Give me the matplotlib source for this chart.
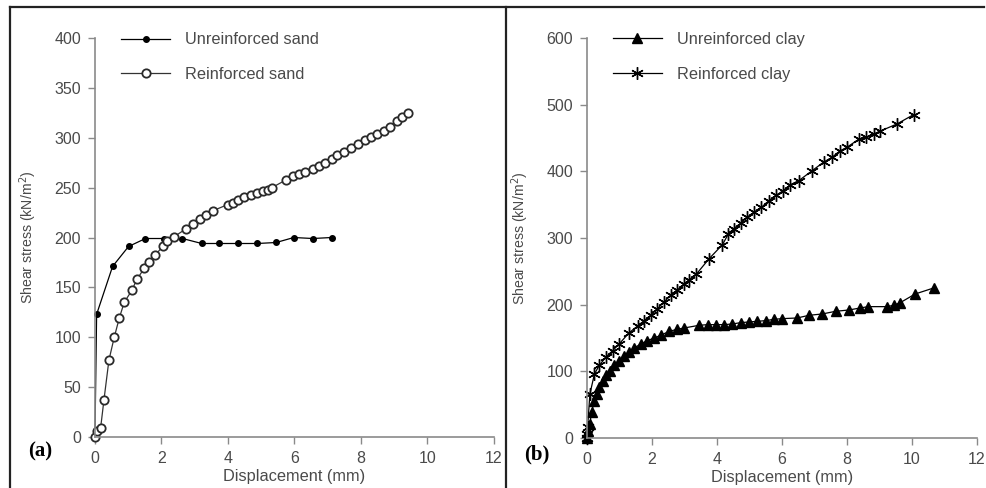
import matplotlib
matplotlib.use("Agg")
import matplotlib.pyplot as plt
from matplotlib.lines import Line2D

plt.rcParams['font.family'] = ['Liberation Sans', 'DejaVu Sans']

# (a) sand: displacement (mm) vs shear stress (kN/m2)
sand_unr_x = [0.0, 0.05, 0.53, 1.01, 1.52, 2.09, 2.63, 3.21, 3.74, 4.30, 4.88, 5.45, 5.98, 6.55, 7.12]
sand_unr_y = [0, 123, 171, 191, 199, 199, 199, 194, 194, 194, 194, 195, 200, 199, 200]

sand_rein_x = [0.0, 0.07, 0.17, 0.27, 0.42, 0.58, 0.73, 0.88, 1.11, 1.26, 1.48, 1.62, 1.80,
               2.04, 2.17, 2.39, 2.75, 2.96, 3.16, 3.35, 3.56, 3.99, 4.16, 4.31, 4.49, 4.68,
               4.86, 5.04, 5.20, 5.32, 5.76, 5.96, 6.14, 6.32, 6.55, 6.75, 6.92, 7.12, 7.29,
               7.49, 7.71, 7.91, 8.11, 8.31, 8.48, 8.69, 8.87, 9.07, 9.24, 9.42]
sand_rein_y = [0, 6, 9, 37, 77, 100, 119, 135, 147, 158, 169, 175, 182,
               191, 196, 201, 209, 214, 219, 223, 227, 233, 235, 238, 241, 243,
               245, 247, 248, 250, 258, 262, 264, 266, 269, 272, 275, 279, 283,
               286, 290, 294, 298, 301, 304, 307, 311, 317, 321, 325]

# (b) clay
clay_unr_x = [0.0, 0.04, 0.09, 0.14, 0.23, 0.30, 0.38, 0.48, 0.58, 0.71, 0.84, 0.99, 1.15,
              1.30, 1.45, 1.66, 1.86, 2.07, 2.27, 2.53, 2.78, 2.99, 3.45, 3.71, 3.96, 4.22,
              4.47, 4.73, 4.98, 5.24, 5.50, 5.75, 6.01, 6.47, 6.83, 7.24, 7.65, 8.06, 8.41,
              8.65, 9.23, 9.44, 9.64, 10.10, 10.67]
clay_unr_y = [0, 11, 21, 39, 56, 66, 76, 86, 94, 101, 109, 116, 123,
              129, 135, 141, 146, 150, 154, 160, 163, 165, 169, 170, 170, 170,
              171, 173, 174, 175, 176, 178, 179, 180, 184, 186, 190, 192, 195,
              197, 197, 199, 203, 216, 225]

clay_rein_x = [0.0, 0.0, 0.02, 0.09, 0.23, 0.38, 0.58, 0.79, 0.99, 1.30, 1.56, 1.76, 1.97,
               2.17, 2.37, 2.58, 2.78, 2.99, 3.14, 3.37, 3.76, 4.17, 4.35, 4.52, 4.73, 4.93,
               5.15, 5.37, 5.60, 5.82, 6.04, 6.26, 6.52, 6.93, 7.29, 7.54, 7.80, 8.00, 8.36,
               8.59, 8.82, 9.01, 9.54, 10.05]
clay_rein_y = [0, 6, 16, 66, 96, 109, 121, 131, 141, 158, 168, 176, 184,
               194, 204, 214, 222, 231, 237, 246, 269, 290, 306, 314, 322, 331,
               339, 346, 356, 364, 371, 380, 386, 401, 414, 421, 431, 436, 448,
               451, 456, 460, 471, 485]

spine_col = '#8a8a8a'
text_col = '#4a4a4a'

fig = plt.figure(figsize=(9.86, 4.88), dpi=100)
ax1 = fig.add_axes([0.0963, 0.1045, 0.4047, 0.8176])
ax2 = fig.add_axes([0.5953, 0.1025, 0.3955, 0.8197])

ax1.plot(sand_unr_x, sand_unr_y, color='black', lw=0.9, marker='o', ms=4,
         mfc='black', mec='black', label='Unreinforced sand')
ax1.plot(sand_rein_x, sand_rein_y, color='#333333', lw=0.9, marker='o', ms=6,
         mfc='white', mec='#2a2a2a', mew=1.3, label='Reinforced sand')
ax1.set_ylim(0, 400)
ax1.set_yticks(range(0, 401, 50))

ax2.plot(clay_unr_x, clay_unr_y, color='black', lw=0.9, marker='^', ms=7,
         mfc='black', mec='black', label='Unreinforced clay')
ax2.plot(clay_rein_x, clay_rein_y, color='black', lw=0.9, marker=(6, 2, 0), ms=9,
         mec='black', mew=1.0, label='Reinforced clay')
ax2.set_ylim(0, 600)
ax2.set_yticks(range(0, 601, 100))

for ax in (ax1, ax2):
    ax.set_xlim(0, 12)
    ax.set_xticks(range(0, 13, 2))
    for s in ('top', 'right'):
        ax.spines[s].set_visible(False)
    for s in ('left', 'bottom'):
        ax.spines[s].set_color(spine_col)
        ax.spines[s].set_linewidth(1.2)
    ax.tick_params(colors=spine_col, labelcolor=text_col, labelsize=11.5,
                   length=5, width=1.0, pad=5)
    ax.set_xlabel('Displacement (mm)', fontsize=11.8, color=text_col, labelpad=2)
    ax.set_ylabel('Shear stress (kN/m$^2$)', fontsize=10.2, color=text_col)
    ax.patch.set_visible(False)
    for line in ax.lines:
        line.set_clip_on(False)
    ax.legend(loc='upper left', bbox_to_anchor=(0.045, 1.035), frameon=False,
              handlelength=3.0, labelspacing=1.2, borderpad=0, handletextpad=0.9,
              fontsize=11.8, labelcolor=text_col)

ax1.yaxis.set_label_coords(-0.14, 0.5)
ax2.yaxis.set_label_coords(-0.144, 0.5)

# panel tags
fig.text(0.029, 0.074, '(a)', fontsize=15, fontweight='bold',
         family='Liberation Serif', va='center')
fig.text(0.532, 0.068, '(b)', fontsize=15, fontweight='bold',
         family='Liberation Serif', va='center')

# outer frame and panel divider
for xs, ys in [([0.010, 0.998], [0.986, 0.986]),
               ([0.010, 0.010], [0.0, 0.986]),
               ([0.513, 0.513], [0.0, 0.986])]:
    fig.add_artist(Line2D(xs, ys, color='#222222', lw=1.6, transform=fig.transFigure))

fig.savefig('out.png', dpi=100)
